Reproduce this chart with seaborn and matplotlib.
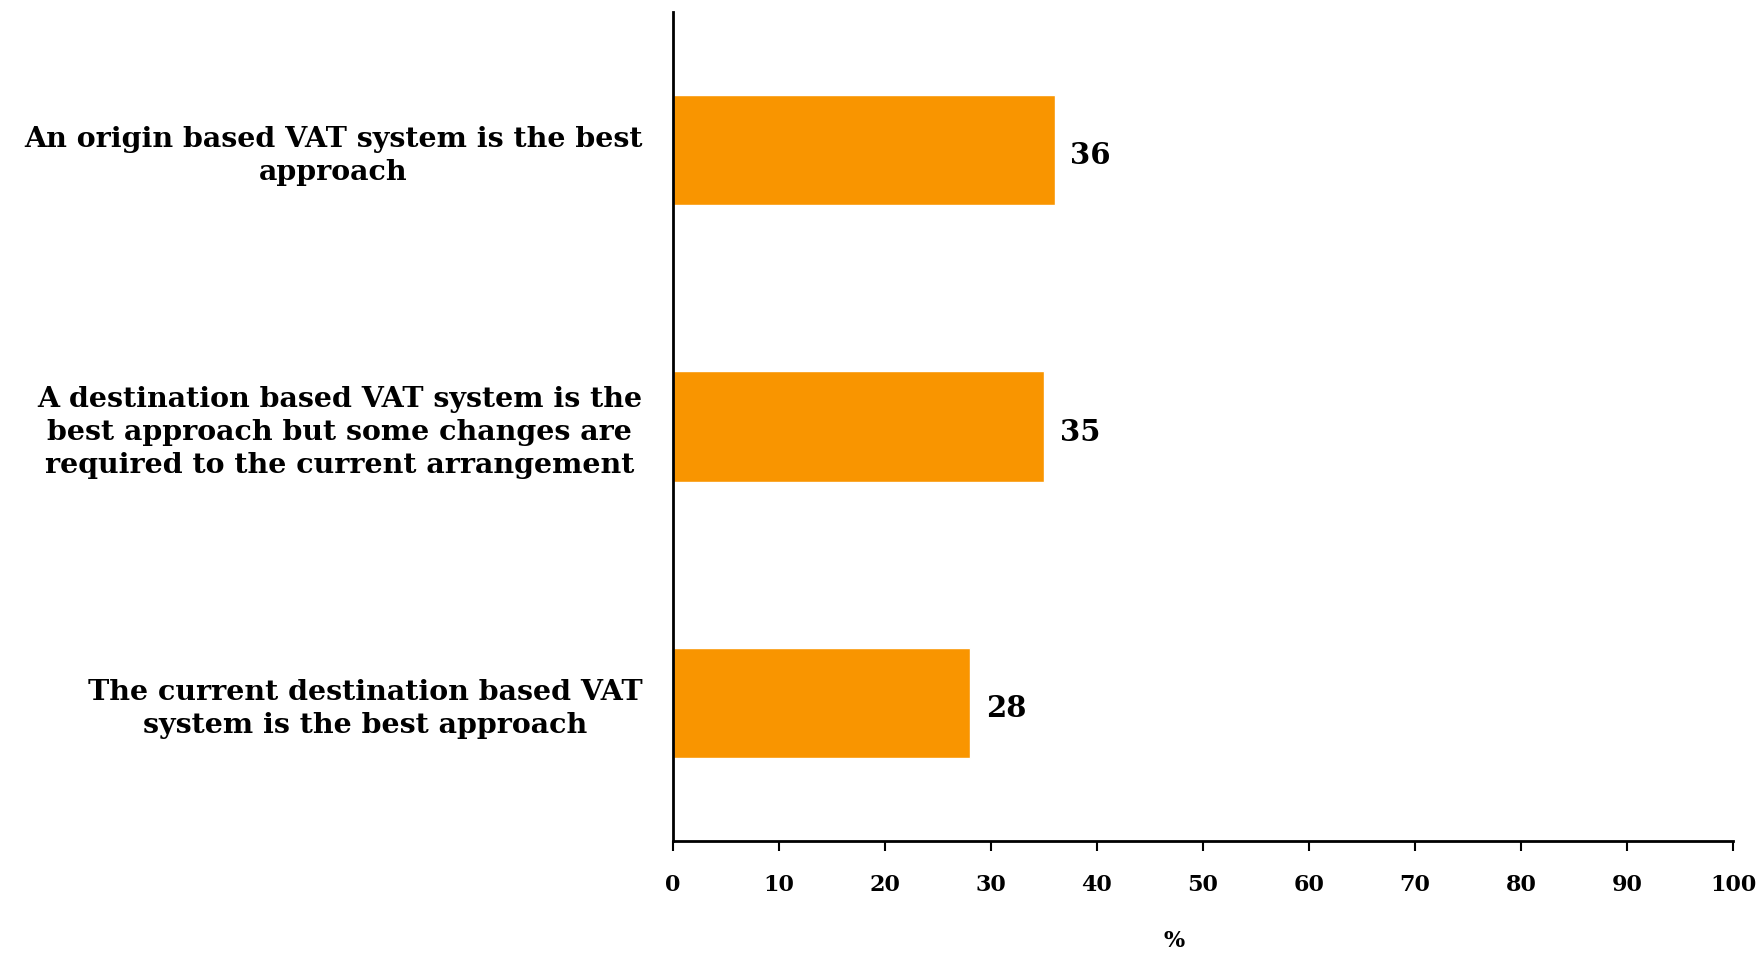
import matplotlib
matplotlib.use("Agg")
import matplotlib.pyplot as plt
import seaborn as sns
import pandas as pd

categories = [
    "An origin based VAT system is the best\napproach",
    "A destination based VAT system is the\nbest approach but some changes are\nrequired to the current arrangement",
    "The current destination based VAT\nsystem is the best approach",
]
values = [36, 35, 28]
x_ticks = [0, 10, 20, 30, 40, 50, 60, 70, 80, 90, 100]

sns.set_theme(style="white")
plt.rcParams["font.family"] = ["DejaVu Serif"]
plt.rcParams["font.weight"] = "bold"
plt.rcParams["text.color"] = "black"
plt.rcParams["xtick.color"] = "black"
plt.rcParams["ytick.color"] = "black"
plt.rcParams["axes.labelcolor"] = "black"

df = pd.DataFrame({"category": categories, "value": values})

fig = plt.figure(figsize=(17.65, 9.55), dpi=100)
ax = fig.add_axes([673 / 1765, 1 - 841 / 955, (1733 - 673) / 1765, (841 - 12) / 955])

sns.barplot(data=df, y="category", x="value", orient="h", color="#F99500",
            width=0.4, saturation=1, ax=ax)

ax.set_xlim(0, 100)
ax.set_ylim(2.5, -0.5)
ax.set_xticks(x_ticks)
ax.set_xticklabels([str(t) for t in x_ticks], fontsize=16, fontweight="bold")

# category labels centred in each band, ticks at the band boundaries
ax.set_yticks([0, 1, 2])
ax.set_yticklabels(categories, fontsize=20.5, fontweight="bold",
                   multialignment="center", linespacing=1.3)
ax.set_yticks([-0.5, 0.5, 1.5, 2.5], minor=True)
ax.tick_params(axis="y", which="major", length=0, pad=22)
ax.tick_params(axis="y", which="minor", length=8, width=1.5, direction="out",
               color="black")
ax.tick_params(axis="x", which="major", length=7, width=1.5, direction="out",
               color="black", pad=17, bottom=True)

for side in ["top", "right"]:
    ax.spines[side].set_visible(False)
for side in ["left", "bottom"]:
    ax.spines[side].set_color("black")
    ax.spines[side].set_linewidth(2)

for i, v in enumerate(values):
    ax.text(v + 1.5, i + 0.02, str(v), va="center", ha="left",
            fontsize=21, fontweight="bold", color="black")

ax.set_ylabel("")
ax.set_xlabel("%", fontsize=16, fontweight="bold")
ax.xaxis.label.set_va("center")
ax.xaxis.set_label_coords((1174 - 673) / (1733 - 673), -(941 - 841) / 829)

fig.savefig("out.png", dpi=100, facecolor="white")
